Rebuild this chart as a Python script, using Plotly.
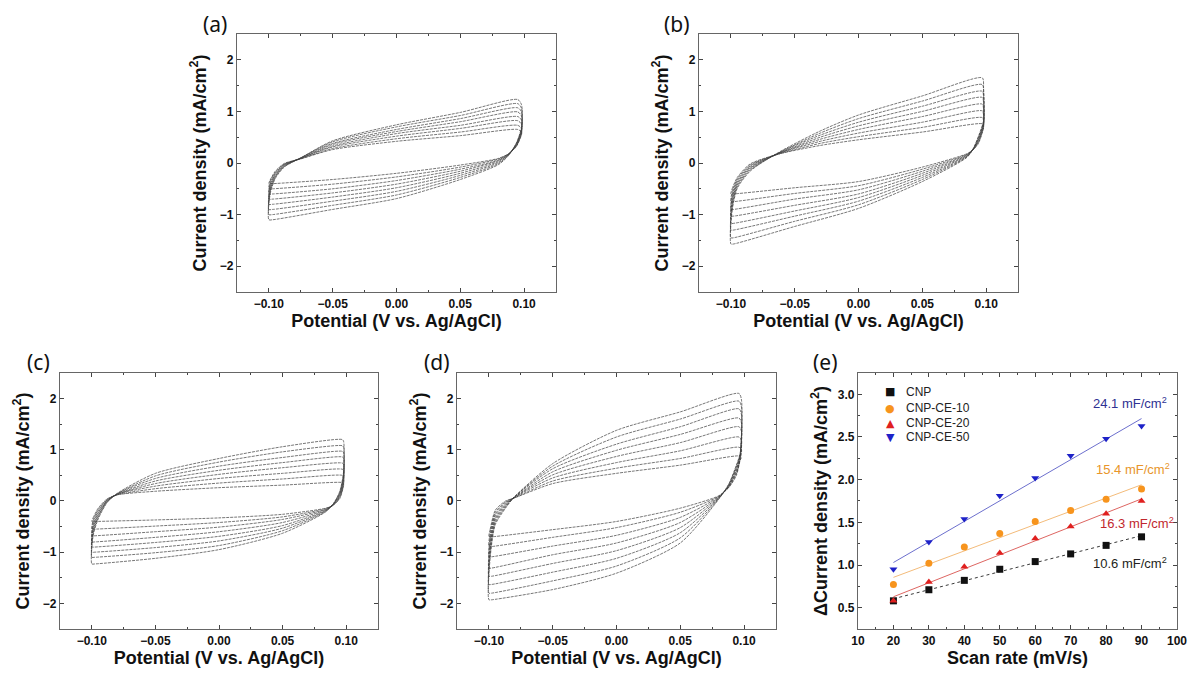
import numpy as np
import plotly.graph_objects as go

# scan rates of the CV loops (mV/s), innermost loop first
scan_rates = [20, 30, 40, 50, 60, 70, 80, 90]

# --- CV curves ---
# each *_fwd / *_rev entry is one potential of the grid, values listed for 20..90 mV/s

# (a) CNP
a_xf = [-0.100, -0.099, -0.095, -0.088, -0.075, -0.050, 0.000, 0.050, 0.095]
a_fwd = [
    [-0.40, -0.50, -0.60, -0.70, -0.80, -0.90, -1.00, -1.10],
    [-0.33, -0.36, -0.40, -0.44, -0.48, -0.52, -0.56, -0.60],
    [-0.16, -0.18, -0.20, -0.22, -0.24, -0.26, -0.28, -0.30],
    [-0.01, -0.02, -0.03, -0.04, -0.05, -0.06, -0.07, -0.08],
    [0.08, 0.08, 0.09, 0.09, 0.09, 0.10, 0.10, 0.10],
    [0.26, 0.28, 0.31, 0.33, 0.36, 0.38, 0.41, 0.43],
    [0.42, 0.47, 0.52, 0.57, 0.61, 0.65, 0.70, 0.74],
    [0.53, 0.60, 0.67, 0.73, 0.80, 0.86, 0.92, 0.98],
    [0.65, 0.73, 0.82, 0.90, 0.99, 1.07, 1.15, 1.23],
]
a_xr = [0.098, 0.098, 0.094, 0.088, 0.080, 0.050, 0.000, -0.050, -0.097]
a_rev = [
    [0.60, 0.67, 0.75, 0.83, 0.91, 0.99, 1.06, 1.13],
    [0.55, 0.57, 0.59, 0.61, 0.63, 0.65, 0.67, 0.69],
    [0.32, 0.33, 0.34, 0.35, 0.36, 0.37, 0.38, 0.39],
    [0.18, 0.18, 0.18, 0.17, 0.17, 0.16, 0.16, 0.15],
    [0.09, 0.08, 0.06, 0.05, 0.03, 0.01, -0.01, -0.03],
    [-0.04, -0.08, -0.12, -0.16, -0.20, -0.24, -0.28, -0.32],
    [-0.20, -0.27, -0.34, -0.41, -0.48, -0.55, -0.62, -0.69],
    [-0.32, -0.41, -0.50, -0.58, -0.66, -0.74, -0.82, -0.90],
    [-0.40, -0.50, -0.60, -0.70, -0.80, -0.90, -1.00, -1.10],
]

# (b) CNP-CE-10
b_xf = [-0.100, -0.099, -0.095, -0.085, -0.063, -0.030, 0.000, 0.050, 0.097]
b_fwd = [
    [-0.60, -0.75, -0.90, -1.03, -1.17, -1.30, -1.45, -1.57],
    [-0.50, -0.56, -0.62, -0.68, -0.74, -0.80, -0.86, -0.92],
    [-0.28, -0.31, -0.34, -0.37, -0.40, -0.43, -0.46, -0.49],
    [-0.02, -0.04, -0.06, -0.08, -0.10, -0.12, -0.14, -0.16],
    [0.17, 0.17, 0.18, 0.18, 0.18, 0.19, 0.19, 0.20],
    [0.34, 0.38, 0.42, 0.46, 0.50, 0.54, 0.58, 0.62],
    [0.45, 0.51, 0.58, 0.65, 0.72, 0.79, 0.86, 0.93],
    [0.60, 0.69, 0.79, 0.90, 1.00, 1.10, 1.20, 1.30],
    [0.76, 0.88, 1.01, 1.14, 1.27, 1.39, 1.52, 1.65],
]
b_xr = [0.098, 0.098, 0.094, 0.090, 0.085, 0.050, 0.000, -0.050, -0.098]
b_rev = [
    [0.72, 0.82, 0.93, 1.04, 1.15, 1.26, 1.36, 1.45],
    [0.68, 0.70, 0.72, 0.74, 0.76, 0.78, 0.80, 0.82],
    [0.38, 0.40, 0.42, 0.44, 0.46, 0.48, 0.50, 0.52],
    [0.26, 0.26, 0.27, 0.27, 0.27, 0.28, 0.28, 0.28],
    [0.18, 0.17, 0.16, 0.15, 0.14, 0.13, 0.12, 0.11],
    [-0.08, -0.12, -0.16, -0.20, -0.24, -0.28, -0.32, -0.36],
    [-0.36, -0.44, -0.52, -0.60, -0.67, -0.74, -0.81, -0.88],
    [-0.48, -0.59, -0.70, -0.82, -0.93, -1.03, -1.13, -1.23],
    [-0.60, -0.75, -0.90, -1.03, -1.17, -1.30, -1.45, -1.57],
]

# (c) CNP-CE-20
c_xf = [-0.100, -0.099, -0.095, -0.088, -0.080, -0.050, 0.000, 0.050, 0.097]
c_fwd = [
    [-0.40, -0.55, -0.68, -0.80, -0.90, -1.00, -1.10, -1.23],
    [-0.33, -0.38, -0.43, -0.48, -0.53, -0.58, -0.63, -0.68],
    [-0.14, -0.17, -0.20, -0.23, -0.26, -0.29, -0.32, -0.35],
    [0.04, 0.03, 0.02, 0.01, 0.00, -0.01, -0.02, -0.03],
    [0.12, 0.12, 0.13, 0.13, 0.13, 0.14, 0.14, 0.15],
    [0.19, 0.24, 0.29, 0.34, 0.39, 0.44, 0.49, 0.54],
    [0.26, 0.35, 0.44, 0.52, 0.60, 0.68, 0.76, 0.83],
    [0.31, 0.43, 0.54, 0.65, 0.75, 0.85, 0.96, 1.06],
    [0.36, 0.50, 0.62, 0.74, 0.86, 0.97, 1.08, 1.20],
]
c_xr = [0.098, 0.098, 0.095, 0.090, 0.084, 0.050, 0.000, -0.050, -0.098]
c_rev = [
    [0.34, 0.47, 0.59, 0.71, 0.83, 0.94, 1.05, 1.16],
    [0.30, 0.34, 0.38, 0.42, 0.46, 0.50, 0.54, 0.58],
    [0.05, 0.07, 0.09, 0.11, 0.13, 0.15, 0.17, 0.19],
    [-0.08, -0.08, -0.07, -0.07, -0.06, -0.06, -0.05, -0.05],
    [-0.14, -0.15, -0.16, -0.17, -0.18, -0.19, -0.20, -0.21],
    [-0.26, -0.31, -0.36, -0.42, -0.48, -0.53, -0.58, -0.63],
    [-0.33, -0.42, -0.51, -0.60, -0.69, -0.78, -0.87, -0.95],
    [-0.37, -0.49, -0.60, -0.71, -0.81, -0.91, -1.01, -1.12],
    [-0.40, -0.55, -0.68, -0.80, -0.90, -1.00, -1.10, -1.23],
]

# (d) CNP-CE-50
d_xf = [-0.100, -0.099, -0.095, -0.087, -0.080, -0.050, 0.000, 0.050, 0.096]
d_fwd = [
    [-0.70, -0.89, -1.09, -1.31, -1.47, -1.63, -1.80, -1.93],
    [-0.55, -0.62, -0.70, -0.78, -0.86, -0.94, -1.02, -1.10],
    [-0.18, -0.22, -0.26, -0.30, -0.34, -0.38, -0.42, -0.46],
    [0.00, -0.02, -0.04, -0.06, -0.08, -0.10, -0.12, -0.14],
    [0.06, 0.06, 0.07, 0.07, 0.07, 0.08, 0.08, 0.08],
    [0.34, 0.39, 0.45, 0.51, 0.57, 0.63, 0.68, 0.73],
    [0.54, 0.64, 0.75, 0.87, 0.99, 1.11, 1.25, 1.38],
    [0.70, 0.83, 0.98, 1.14, 1.30, 1.45, 1.60, 1.74],
    [0.88, 1.05, 1.25, 1.45, 1.62, 1.80, 1.95, 2.10],
]
d_xr = [0.098, 0.097, 0.094, 0.088, 0.080, 0.050, 0.000, -0.050, -0.098]
d_rev = [
    [0.85, 1.00, 1.18, 1.36, 1.52, 1.68, 1.83, 1.97],
    [0.80, 0.82, 0.84, 0.86, 0.88, 0.90, 0.92, 0.94],
    [0.50, 0.53, 0.56, 0.59, 0.62, 0.65, 0.68, 0.70],
    [0.26, 0.27, 0.28, 0.29, 0.30, 0.31, 0.32, 0.33],
    [0.10, 0.09, 0.08, 0.07, 0.06, 0.05, 0.04, 0.03],
    [-0.14, -0.22, -0.32, -0.42, -0.52, -0.62, -0.72, -0.82],
    [-0.40, -0.52, -0.67, -0.82, -0.97, -1.12, -1.27, -1.41],
    [-0.56, -0.71, -0.88, -1.05, -1.22, -1.39, -1.56, -1.73],
    [-0.70, -0.89, -1.09, -1.31, -1.47, -1.63, -1.80, -1.93],
]

# (e) delta current density vs scan rate
e_rates = [20, 30, 40, 50, 60, 70, 80, 90]
e_cnp = [0.58, 0.71, 0.82, 0.95, 1.04, 1.13, 1.23, 1.33]
e_ce10 = [0.77, 1.02, 1.21, 1.37, 1.51, 1.64, 1.77, 1.89]
e_ce20 = [0.58, 0.80, 0.98, 1.14, 1.31, 1.45, 1.60, 1.75]
e_ce50 = [0.95, 1.27, 1.54, 1.81, 2.02, 2.28, 2.48, 2.63]
e_names = ['CNP', 'CNP-CE-10', 'CNP-CE-20', 'CNP-CE-50']
e_labels = ['10.6 mF/cm<sup>2</sup>', '15.4 mF/cm<sup>2</sup>',
            '16.3 mF/cm<sup>2</sup>', '24.1 mF/cm<sup>2</sup>']

FONT = 'Liberation Sans, Arial, sans-serif'
W, H = 1189, 680

fig = go.Figure()


def add_cv(xf, fwd, xr, rev, xa, ya):
    fwd = np.array(fwd).T
    rev = np.array(rev).T
    for i, rate in enumerate(scan_rates):
        x = list(xf) + list(xr) + [xf[0]]
        y = list(fwd[i]) + list(rev[i]) + [fwd[i][0]]
        fig.add_trace(go.Scatter(
            x=x, y=y, mode='lines', xaxis=xa, yaxis=ya,
            name=f'{rate} mV/s', showlegend=False,
            line=dict(color='#3c3c3c', width=0.7, dash='3px,1px',
                      shape='spline', smoothing=0.7),
        ))


add_cv(a_xf, a_fwd, a_xr, a_rev, 'x', 'y')
add_cv(b_xf, b_fwd, b_xr, b_rev, 'x2', 'y2')
add_cv(c_xf, c_fwd, c_xr, c_rev, 'x3', 'y3')
add_cv(d_xf, d_fwd, d_xr, d_rev, 'x4', 'y4')

# --- panel (e): points + linear fits ---
sym_list = ['square', 'circle', 'triangle-up', 'triangle-down']
glyphs = ['\u25a0', '\u25cf', '\u25b2', '\u25bc']
mk_col = ['#111111', '#F7941D', '#E0201F', '#1E22C8']
fit_col = ['#222222', '#F2B36B', '#D9534F', '#5B5FC7']
fit_dash = ['dot', 'solid', 'solid', 'solid']
e_series = [e_cnp, e_ce10, e_ce20, e_ce50]

for i, vals in enumerate(e_series):
    k, b = np.polyfit(e_rates, vals, 1)
    xs = np.array([e_rates[0], e_rates[-1]])
    fig.add_trace(go.Scatter(
        x=xs, y=k * xs + b, mode='lines', xaxis='x5', yaxis='y5',
        showlegend=False, line=dict(color=fit_col[i], width=0.9, dash=fit_dash[i]),
    ))
for i, vals in enumerate(e_series):
    fig.add_trace(go.Scatter(
        x=e_rates, y=vals, mode='markers', name=e_names[i], xaxis='x5', yaxis='y5',
        showlegend=False, marker=dict(symbol=sym_list[i], size=7, color=mk_col[i]),
    ))


def frame_axis(domain, anchor, rng, dtick, minor, fmt, title, standoff):
    return dict(
        domain=domain, anchor=anchor, range=rng, dtick=dtick, tickformat=fmt,
        automargin=False,
        ticks='inside', ticklen=4, tickwidth=1, tickcolor='#444',
        minor=dict(ticks='inside', ticklen=2, dtick=minor, tickcolor='#444'),
        showline=True, linecolor='#666', linewidth=1.3, mirror='allticks',
        showgrid=False, zeroline=False,
        tickfont=dict(family=FONT, size=12, color='#111', weight='bold'),
        title=dict(text=title, standoff=standoff,
                   font=dict(family=FONT, size=18, color='#111', weight='bold')),
    )


pot = 'Potential (V vs. Ag/AgCl)'
cur = 'Current density (mA/cm<sup>2</sup>)'
top = [0.5706, 0.95]
bot = [0.075, 0.4515]
cvx = [-0.125, 0.125]
cvy = [-2.5, 2.5]
layout = dict(
    xaxis=frame_axis([0.1993, 0.4676], 'y', cvx, 0.05, 0.025, '.2f', pot, 2),
    yaxis=frame_axis(top, 'x', cvy, 1, 0.5, '', cur, 8),
    xaxis2=frame_axis([0.5879, 0.8562], 'y2', cvx, 0.05, 0.025, '.2f', pot, 2),
    yaxis2=frame_axis(top, 'x2', cvy, 1, 0.5, '', cur, 8),
    xaxis3=frame_axis([0.0505, 0.3179], 'y3', cvx, 0.05, 0.025, '.2f', pot, 2),
    yaxis3=frame_axis(bot, 'x3', cvy, 1, 0.5, '', cur, 8),
    xaxis4=frame_axis([0.3844, 0.6526], 'y4', cvx, 0.05, 0.025, '.2f', pot, 2),
    yaxis4=frame_axis(bot, 'x4', cvy, 1, 0.5, '', cur, 8),
    xaxis5=frame_axis([0.7216, 0.9899], 'y5', [10, 100], 10, 5, '', 'Scan rate (mV/s)', 4),
    yaxis5=frame_axis(bot, 'x5', [0.25, 3.25], 0.5, 0.25, '.1f',
                      '\u0394Current density (mA/cm<sup>2</sup>)', 5),
)
fig.update_layout(**layout)

# panel letters
for txt, px, py in [('(a)', 215, 24), ('(b)', 677, 24), ('(c)', 38, 362),
                    ('(d)', 437, 362), ('(e)', 825, 362)]:
    fig.add_annotation(text=txt, x=px / W, y=1 - py / H, xref='paper', yref='paper',
                       xanchor='center', yanchor='middle', showarrow=False,
                       font=dict(family='Noto Sans', size=21, color='#111'))

# legend of panel (e)
leg_y = [392, 408, 423, 437]
for i in range(4):
    fig.add_annotation(text=glyphs[i], x=890 / W, y=1 - leg_y[i] / H,
                       xref='paper', yref='paper', xanchor='center', yanchor='middle',
                       showarrow=False, font=dict(family='DejaVu Sans', size=11, color=mk_col[i]))
    fig.add_annotation(text=e_names[i], x=904 / W, y=1 - leg_y[i] / H,
                       xref='paper', yref='paper', xanchor='left', yanchor='middle',
                       showarrow=False, font=dict(family=FONT, size=12, color='#222'))

# capacitance labels in panel (e)
lab_x = [86.7, 87.6, 88.7, 86.7]
lab_y = [1.02, 2.125, 1.49, 2.90]
lab_col = ['#231F20', '#E8952A', '#C1272D', '#2E3192']
for i in range(4):
    fig.add_annotation(text=e_labels[i], x=lab_x[i], y=lab_y[i], xref='x5', yref='y5',
                       showarrow=False, font=dict(family=FONT, size=13, color=lab_col[i]))

fig.update_layout(
    width=W, height=H,
    margin=dict(l=0, r=0, t=0, b=0),
    paper_bgcolor='white', plot_bgcolor='white',
    font=dict(family=FONT, color='#111'),
    showlegend=False,
)

# the page body has a default 8px margin; remove it so the figure fills the window
fig.write_html("out.html", config={'displayModeBar': False},
               post_script="document.body.style.margin='0px';")
